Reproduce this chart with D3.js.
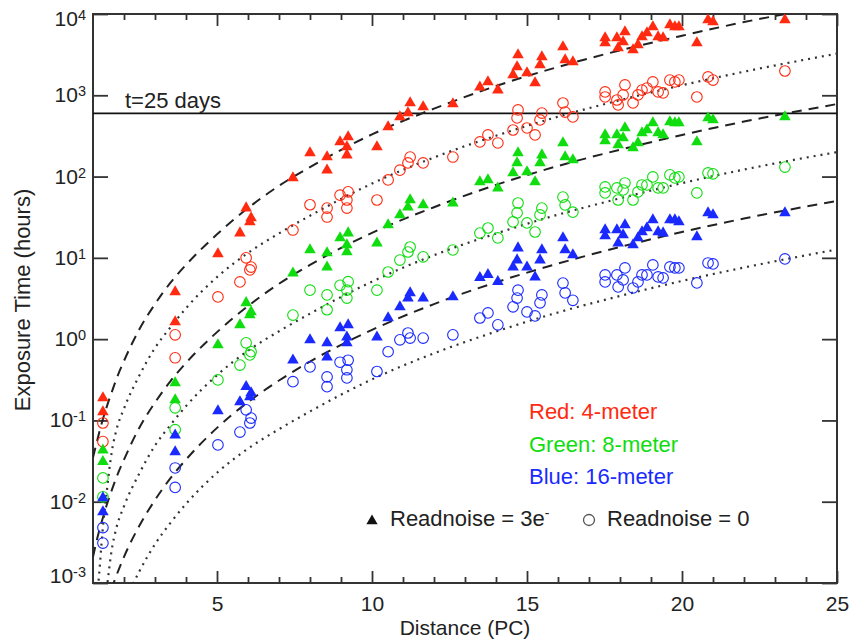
<!DOCTYPE html>
<html>
<head>
<meta charset="utf-8">
<script src="https://cdn.jsdelivr.net/npm/d3@7"></script>
<style>
body { margin: 0; background: #fff; }
svg { font-family: "Liberation Sans", Arial, Helvetica, sans-serif; }
</style>
</head>
<body>
<svg id="chart" width="852" height="643"></svg>
<script>
const MARGINTOP  = 14;
const MARGINLEFT = 93;
const PLOTW      = 744;
const PLOTH      = 569;

// one entry per star (pc)
var distances = [1.32, 1.32, 3.65, 3.65, 5.03, 5.74, 5.94, 6.10, 6.06, 7.45,
    8.0, 8.55, 8.55, 8.97, 9.23, 9.19, 9.19, 10.16, 10.52, 10.9,
    11.16, 11.23, 11.65, 12.61, 13.48, 13.74, 14.06, 14.71, 14.68, 14.55,
    15.0, 15.26, 15.48, 15.42, 16.16, 16.23, 16.48, 17.52, 17.52, 17.9,
    17.94, 18.16, 18.1, 18.42, 18.58, 18.71, 18.87, 19.06, 19.23, 19.39,
    19.61, 19.77, 19.9, 20.48, 20.84, 21.0, 23.32];

// exposure times (hours), readnoise = 3e-
var redTri = [0.189, 0.127, 3.81, 1.63, 11.2, 20.2, 41, 31, 27.7, 96,
    195, 174, 120, 267, 307, 231, 184, 231, 407, 541,
    605, 804, 718, 782, 1260, 1460, 1160, 3130, 2230, 1780,
    1880, 1420, 2960, 2360, 3930, 2720, 2570, 5070, 4400, 5070,
    3820, 6010, 4530, 3610, 4160, 5210, 5840, 6930, 5210, 5070,
    7330, 6930, 6930, 4400, 8440, 7980, 8440];
var greenTri = [0.043, 0.031, 0.29, 0.179, 0.85, 1.50, 2.8, 2.16, 1.98, 6.5,
    12.5, 11.5, 7.7, 17.6, 20.2, 14.4, 11.8, 15.2, 25.4, 33.7,
    42, 51.5, 44.8, 47, 86, 91, 72, 195, 147, 111,
    114, 86, 184, 147, 259, 174, 160, 325, 274, 325,
    245, 396, 298, 225, 259, 344, 374, 456, 344, 325,
    470, 456, 456, 267, 526, 497, 541];
var blueTri = [0.0111, 0.0075, 0.066, 0.041, 0.131, 0.169, 0.26, 0.218, 0.195, 0.55,
    0.98, 0.90, 0.60, 1.37, 1.50, 1.06, 0.90, 1.06, 1.82, 2.49,
    3.2, 3.7, 3.2, 3.3, 5.7, 6.2, 5.1, 13.2, 9.4, 7.7,
    7.7, 5.8, 12.5, 9.4, 17.6, 12.5, 10.9, 22.0, 18.6, 22.0,
    15.2, 25.4, 19.1, 14.4, 17.6, 20.8, 23.3, 29.2, 20.8, 20.2,
    29.2, 29.2, 27.7, 18.1, 35.7, 33.7, 35.7];

// exposure times (hours), readnoise = 0
var redCirc = [0.093, 0.055, 1.13, 0.59, 3.31, 5.06, 10.0, 7.7, 7.1, 22,
    45, 41, 31.8, 59, 65, 51.5, 41, 51.5, 91, 120,
    147, 174, 147, 174, 267, 325, 259, 660, 526, 374,
    396, 325, 605, 497, 804, 622, 541, 1100, 953, 875,
    760, 1340, 1010, 804, 1010, 1160, 1230, 1460, 1100, 1070,
    1540, 1460, 1540, 953, 1680, 1540, 1990];
var greenCirc = [0.0196, 0.0115, 0.143, 0.077, 0.315, 0.48, 0.90, 0.70, 0.64, 1.98,
    4.0, 3.5, 2.3, 4.6, 5.1, 4.0, 3.2, 4.0, 6.7, 9.4,
    11.8, 13.6, 10.3, 12.5, 20.2, 23.3, 17.6, 47.3, 35.7, 27.7,
    26.9, 20.8, 41, 33.7, 56, 44.8, 36.5, 74.5, 62.9, 72.4,
    51.5, 83.4, 68.4, 51.5, 64.7, 78.8, 78.8, 98.9, 72.4, 72.4,
    105, 96.2, 98.9, 62.9, 111, 108, 131];
var blueCirc = [0.0048, 0.0031, 0.026, 0.015, 0.050, 0.072, 0.135, 0.107, 0.093, 0.30,
    0.455, 0.343, 0.26, 0.52, 0.55, 0.42, 0.333, 0.40, 0.70, 0.98,
    1.19, 1.03, 1.03, 1.13, 1.82, 2.1, 1.5, 4.0, 3.2, 2.5,
    2.16, 1.93, 3.5, 2.8, 4.9, 3.7, 3.0, 6.16, 5.06, 6.16,
    4.39, 7.51, 5.35, 4.26, 5.06, 6.16, 6.16, 8.18, 5.82, 5.66,
    7.73, 7.51, 7.51, 4.91, 8.65, 8.41, 9.69];

// model curves, sampled at curveDist
var curveDist = [1.0, 1.1, 1.2, 1.3, 1.45, 1.6, 1.75, 2, 2.5, 3, 3.5, 4, 5, 6, 7, 8, 10, 12, 14, 16, 18, 20, 22, 25];
var redDashed   = [0.035, 0.05, 0.071, 0.098, 0.15, 0.22, 0.32, 0.54, 1.33, 2.7, 4.95, 8.2, 19.5, 41, 77, 131, 330, 684, 1300, 2230, 3570, 5400, 7960, 12900];
var greenDashed = [0.0021, 0.0031, 0.0044, 0.006, 0.0093, 0.0137, 0.0197, 0.033, 0.082, 0.166, 0.305, 0.51, 1.22, 2.55, 4.8, 8.2, 20.3, 42, 79, 135, 214, 325, 475, 780];
var blueDashed  = [0.00013, 0.00019, 0.00027, 0.00037, 0.00058, 0.00085, 0.00122, 0.0021, 0.0051, 0.0105, 0.0195, 0.033, 0.081, 0.168, 0.31, 0.53, 1.3, 2.7, 5.0, 8.5, 13.6, 20.8, 30.5, 50];
var redDotted   = [0.0001, 0.0005, 0.0013, 0.004, 0.014, 0.04, 0.075, 0.14, 0.36, 0.78, 1.4, 2.4, 5.8, 11.5, 20, 33, 82, 172, 318, 545, 870, 1330, 1950, 3250];
var greenDotted = [0.000006, 0.00003, 0.00008, 0.00025, 0.00088, 0.0025, 0.0047, 0.0088, 0.0225, 0.049, 0.088, 0.15, 0.36, 0.72, 1.25, 2.06, 5.1, 10.8, 19.9, 34, 54, 83, 122, 200];
var blueDotted  = [0.0000004, 0.000002, 0.000005, 0.000016, 0.000055, 0.00016, 0.0003, 0.00055, 0.0014, 0.003, 0.0055, 0.0094, 0.0227, 0.045, 0.078, 0.129, 0.32, 0.67, 1.24, 2.13, 3.4, 5.2, 7.6, 12.7];

var limitHours = 600;   // t = 25 days
var xMajor = [5, 10, 15, 20, 25];
var yTicks = [-3, -2, -1, 0, 1, 2, 3, 4];   // decades

var RED = "#ff2a10", GREEN = "#10dd10", BLUE = "#1a2aff";

document.addEventListener('DOMContentLoaded', function(){
    drawChart();
}, false);

function drawChart(){
    var svg = d3.select("#chart");
    var g = svg.append("g").attr("transform", "translate(" + MARGINLEFT + "," + MARGINTOP + ")");

    var x = d3.scaleLinear().domain([1, 25]).range([0, PLOTW]);
    var y = d3.scaleLog().domain([1e-3, 1e4]).range([PLOTH, 0]);

    svg.append("defs").append("clipPath").attr("id", "clip")
        .append("rect").attr("width", PLOTW).attr("height", PLOTH);

    drawAxes(g, x, y);

    var plot = g.append("g").attr("clip-path", "url(#clip)");

    // t = 25 days
    plot.append("line")
        .attr("x1", 0).attr("x2", PLOTW)
        .attr("y1", y(limitHours)).attr("y2", y(limitHours))
        .attr("stroke", "#111").attr("stroke-width", 1.8);

    var line = d3.line()
        .x(function(d){ return x(d[0]); })
        .y(function(d){ return y(d[1]); })
        .curve(d3.curveMonotoneX);

    [redDashed, greenDashed, blueDashed].forEach(function(vals){
        plot.append("path")
            .attr("d", line(d3.zip(curveDist, vals)))
            .attr("fill", "none").attr("stroke", "#222")
            .attr("stroke-width", 2).attr("stroke-dasharray", "10,7");
    });
    [redDotted, greenDotted, blueDotted].forEach(function(vals){
        plot.append("path")
            .attr("d", line(d3.zip(curveDist, vals)))
            .attr("fill", "none").attr("stroke", "#333")
            .attr("stroke-width", 2.2).attr("stroke-dasharray", "2,5");
    });

    var series = [
        { vals: redCirc,   colour: RED,   tri: false },
        { vals: greenCirc, colour: GREEN, tri: false },
        { vals: blueCirc,  colour: BLUE,  tri: false },
        { vals: redTri,    colour: RED,   tri: true },
        { vals: greenTri,  colour: GREEN, tri: true },
        { vals: blueTri,   colour: BLUE,  tri: true }
    ];
    var tri = d3.symbol().type(d3.symbolTriangle).size(58);

    series.forEach(function(s){
        var pts = d3.zip(distances, s.vals);
        if(s.tri){
            plot.selectAll(null).data(pts).enter().append("path")
                .attr("d", tri)
                .attr("transform", function(d){ return "translate(" + x(d[0]) + "," + y(d[1]) + ")"; })
                .attr("fill", s.colour);
        } else {
            plot.selectAll(null).data(pts).enter().append("circle")
                .attr("cx", function(d){ return x(d[0]); })
                .attr("cy", function(d){ return y(d[1]); })
                .attr("r", 5.3)
                .attr("fill", "none").attr("stroke", s.colour).attr("stroke-width", 1.1);
        }
    });

    g.append("text")
        .attr("x", 32).attr("y", y(limitHours) - 5)
        .attr("font-size", 22).attr("fill", "#222")
        .text("t=25 days");

    drawLegend(svg);
}

function drawAxes(g, x, y){
    var xMinor = d3.range(2, 25).filter(function(v){ return v % 5 != 0; });
    var yVals = yTicks.map(function(p){ return Math.pow(10, p); });

    function style(sel){
        sel.select(".domain").remove();
        sel.attr("color", "#333");
        sel.selectAll("line").attr("stroke-width", 1.8);
    }

    g.append("g").attr("transform", "translate(0," + PLOTH + ")")
        .call(d3.axisBottom(x).tickValues(xMinor).tickSizeInner(-6).tickSizeOuter(0).tickFormat(""))
        .call(style);
    g.append("g")
        .call(d3.axisTop(x).tickValues(xMinor).tickSizeInner(-6).tickSizeOuter(0).tickFormat(""))
        .call(style);
    g.append("g")
        .call(d3.axisTop(x).tickValues(xMajor).tickSizeInner(-12).tickSizeOuter(0).tickFormat(""))
        .call(style);

    var xb = g.append("g").attr("transform", "translate(0," + PLOTH + ")")
        .call(d3.axisBottom(x).tickValues(xMajor).tickSizeInner(-12).tickSizeOuter(0)
            .tickPadding(13).tickFormat(d3.format("d")))
        .call(style);
    xb.attr("font-size", 21).attr("font-family", null);
    xb.selectAll("text").attr("fill", "#222");

    g.append("g")
        .call(d3.axisLeft(y).tickValues(yVals).tickSizeInner(-15).tickSizeOuter(0).tickFormat(""))
        .call(style);
    g.append("g").attr("transform", "translate(" + PLOTW + ",0)")
        .call(d3.axisRight(y).tickValues(yVals).tickSizeInner(-15).tickSizeOuter(0).tickFormat(""))
        .call(style);

    // decade labels with superscript exponents
    var lab = g.append("g").attr("fill", "#222").attr("text-anchor", "end");
    yTicks.forEach(function(p){
        var shift = 7;
        if(p == 4) shift = 12;
        if(p == -3) shift = 0;
        var t = lab.append("text")
            .attr("x", -7).attr("y", y(Math.pow(10, p)) + shift)
            .attr("font-size", 21);
        t.append("tspan").text("10");
        t.append("tspan").attr("font-size", 14.5).attr("dy", -6).text(p);
    });

    // frame
    g.append("rect").attr("width", PLOTW).attr("height", PLOTH)
        .attr("fill", "none").attr("stroke", "#333").attr("stroke-width", 2);

    g.append("text")
        .attr("x", PLOTW / 2).attr("y", PLOTH + 52)
        .attr("text-anchor", "middle").attr("font-size", 21).attr("fill", "#222")
        .text("Distance (PC)");

    g.append("text")
        .attr("transform", "translate(" + (30 - MARGINLEFT) + "," + (300 - MARGINTOP) + ") rotate(-90)")
        .attr("text-anchor", "middle").attr("font-size", 22).attr("fill", "#222")
        .text("Exposure Time (hours)");
}

function drawLegend(svg){
    var names = [
        { text: "Red: 4-meter",   colour: RED,   y: 419 },
        { text: "Green: 8-meter", colour: GREEN, y: 452 },
        { text: "Blue: 16-meter", colour: BLUE,  y: 484 }
    ];
    names.forEach(function(n){
        svg.append("text")
            .attr("x", 529).attr("y", n.y)
            .attr("font-size", 22).attr("fill", n.colour)
            .text(n.text);
    });

    svg.append("path")
        .attr("d", d3.symbol().type(d3.symbolTriangle).size(55)())
        .attr("transform", "translate(372,521)")
        .attr("fill", "#111");
    var t = svg.append("text").attr("x", 390).attr("y", 526)
        .attr("font-size", 22).attr("fill", "#222");
    t.append("tspan").text("Readnoise = 3e");
    t.append("tspan").attr("font-size", 14).attr("dy", -8).text("-");

    svg.append("circle")
        .attr("cx", 589).attr("cy", 520).attr("r", 5.5)
        .attr("fill", "none").attr("stroke", "#555").attr("stroke-width", 1.3);
    svg.append("text").attr("x", 607).attr("y", 526)
        .attr("font-size", 22).attr("fill", "#222")
        .text("Readnoise = 0");
}
</script>
</body>
</html>
